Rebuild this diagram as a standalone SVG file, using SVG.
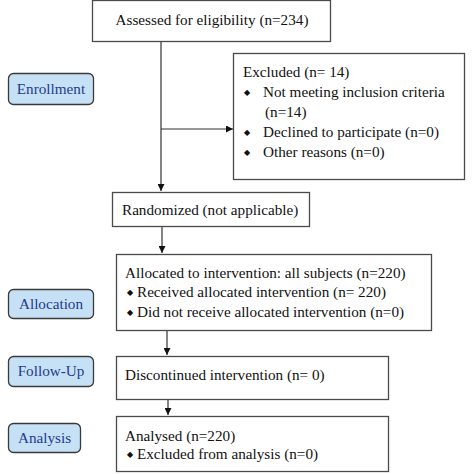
<svg xmlns="http://www.w3.org/2000/svg" width="474" height="474" viewBox="0 0 474 474">
<defs>
<style>
.box{fill:#fff;stroke:#4a4a4a;stroke-width:1.3}
.lab{fill:#c6e1f5;stroke:#3a3a3a;stroke-width:1.3}
.t{font-size:15.2px;fill:#111}
.b{font-size:8px;fill:#111}
.lt{font-size:15.2px;fill:#1f3b8c}
.ln{stroke:#333;stroke-width:1.2;fill:none}
</style>
<marker id="ah" viewBox="0 0 10 10" refX="10" refY="5" markerWidth="7" markerHeight="7" orient="auto" markerUnits="userSpaceOnUse">
<path d="M0,0L10,5L0,10z" fill="#111"/>
</marker>
</defs>
<rect width="474" height="474" fill="#fff"/>
<g id="connectors">
<line class="ln" x1="161" y1="42" x2="161" y2="191" marker-end="url(#ah)"/>
<line class="ln" x1="161" y1="129" x2="233" y2="129" marker-end="url(#ah)"/>
<line class="ln" x1="162" y1="227" x2="162" y2="253" marker-end="url(#ah)"/>
<line class="ln" x1="167" y1="331" x2="167" y2="355" marker-end="url(#ah)"/>
<line class="ln" x1="168" y1="400" x2="168" y2="415" marker-end="url(#ah)"/>
</g>
<g id="enrollment">
<rect class="lab" x="8.5" y="73.5" width="85" height="31" rx="5"/>
<text class="lt" font-family="'Liberation Serif', serif" x="51" y="94" text-anchor="middle">Enrollment</text>
</g>
<g id="allocation-label">
<rect class="lab" x="8.5" y="289.5" width="85" height="29" rx="5"/>
<text class="lt" font-family="'Liberation Serif', serif" x="51" y="309" text-anchor="middle">Allocation</text>
</g>
<g id="followup-label">
<rect class="lab" x="8.5" y="356.5" width="85" height="30" rx="5"/>
<text class="lt" font-family="'Liberation Serif', serif" x="51" y="376" text-anchor="middle">Follow-Up</text>
</g>
<g id="analysis-label">
<rect class="lab" x="8.5" y="423.5" width="72" height="29" rx="5"/>
<text class="lt" font-family="'Liberation Serif', serif" x="44.5" y="443" text-anchor="middle">Analysis</text>
</g>
<g id="assessed">
<rect class="box" x="92.5" y="0.5" width="238" height="41"/>
<text class="t" font-family="'Liberation Serif', serif" x="212" y="24.5" text-anchor="middle">Assessed for eligibility (n=234)</text>
</g>
<g id="excluded">
<rect class="box" x="233.5" y="53.5" width="231" height="126"/>
<text class="t" font-family="'Liberation Serif', serif" x="243" y="77">Excluded (n= 14)</text>
<text class="b" font-family="'DejaVu Sans', sans-serif" x="244" y="95">◆</text>
<text class="t" font-family="'Liberation Serif', serif" x="263" y="97">Not meeting inclusion criteria</text>
<text class="t" font-family="'Liberation Serif', serif" x="265" y="117">(n=14)</text>
<text class="b" font-family="'DejaVu Sans', sans-serif" x="244" y="135">◆</text>
<text class="t" font-family="'Liberation Serif', serif" x="263" y="137">Declined to participate (n=0)</text>
<text class="b" font-family="'DejaVu Sans', sans-serif" x="244" y="155">◆</text>
<text class="t" font-family="'Liberation Serif', serif" x="263" y="157">Other reasons (n=0)</text>
</g>
<g id="randomized">
<rect class="box" x="112.5" y="192.5" width="197" height="34"/>
<text class="t" font-family="'Liberation Serif', serif" x="122" y="215">Randomized (not applicable)</text>
</g>
<g id="allocated">
<rect class="box" x="116.5" y="254.5" width="315" height="76"/>
<text class="t" font-family="'Liberation Serif', serif" x="125" y="278">Allocated to intervention: all subjects (n=220)</text>
<text class="b" font-family="'DejaVu Sans', sans-serif" x="127" y="295">◆</text>
<text class="t" font-family="'Liberation Serif', serif" x="137" y="297">Received allocated intervention (n= 220)</text>
<text class="b" font-family="'DejaVu Sans', sans-serif" x="127" y="315">◆</text>
<text class="t" font-family="'Liberation Serif', serif" x="137" y="317">Did not receive allocated intervention (n=0)</text>
</g>
<g id="followup">
<rect class="box" x="116.5" y="356.5" width="272" height="43"/>
<text class="t" font-family="'Liberation Serif', serif" x="125" y="380">Discontinued intervention (n= 0)</text>
</g>
<g id="analysed">
<rect class="box" x="116.5" y="416.5" width="272" height="55"/>
<text class="t" font-family="'Liberation Serif', serif" x="125" y="441">Analysed (n=220)</text>
<text class="b" font-family="'DejaVu Sans', sans-serif" x="127" y="457">◆</text>
<text class="t" font-family="'Liberation Serif', serif" x="137" y="459">Excluded from analysis (n=0)</text>
</g>
</svg>
